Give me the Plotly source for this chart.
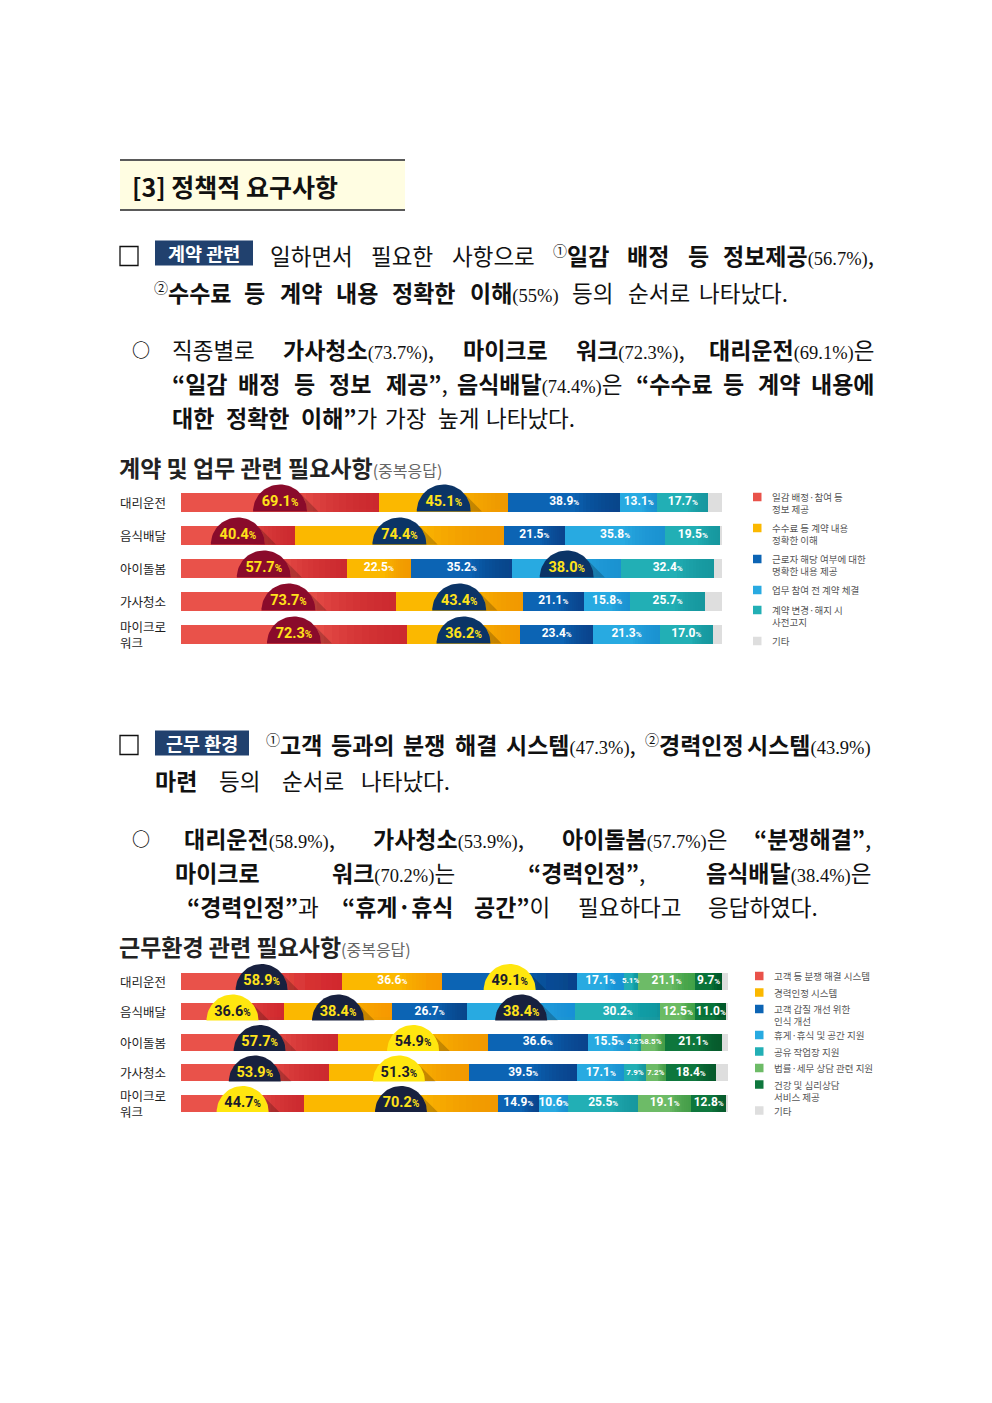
import math
import plotly.graph_objects as go

# page size; the browser adds an 8px body margin, so the figure is a bit smaller
PAGE_W, PAGE_H = 992, 1403
FW, FH = PAGE_W - 16, PAGE_H - 16

# ---- data: 계약 및 업무 관련 필요사항 (중복응답) ----
jobs = ["대리운전", "음식배달", "아이돌봄", "가사청소", "마이크로<br>워크"]

contract_names = ["일감 배정·참여 등<br>정보 제공", "수수료 등 계약 내용<br>정확한 이해",
                  "근로자 해당 여부에 대한<br>명확한 내용 제공", "업무 참여 전 계약 체결",
                  "계약 변경·해지 시<br>사전고지", "기타"]
contract_info = [69.1, 40.4, 57.7, 73.7, 72.3]
contract_fee = [45.1, 74.4, 22.5, 43.4, 36.2]
contract_worker = [38.9, 21.5, 35.2, 21.1, 23.4]
contract_sign = [13.1, 35.8, 38.0, 15.8, 21.3]
contract_notice = [17.7, 19.5, 32.4, 25.7, 17.0]
contract_etc = [4.8, 0.6, 2.7, 5.8, 2.9]  # not labelled, read from the grey ends

# ---- data: 근무환경 관련 필요사항 (중복응답) ----
work_names = ["고객 등 분쟁 해결 시스템", "경력인정 시스템", "고객 갑질 개선 위한<br>인식 개선",
              "휴게·휴식 및 공간 지원", "공유 작업장 지원", "법률·세무 상담 관련 지원",
              "건강 및 심리상담<br>서비스 제공", "기타"]
work_dispute = [58.9, 36.6, 57.7, 53.9, 44.7]
work_career = [36.6, 38.4, 54.9, 51.3, 70.2]
work_abuse = [49.1, 26.7, 36.6, 39.5, 14.9]
work_rest = [17.1, 38.4, 15.5, 17.1, 10.6]
work_shared = [5.1, 30.2, 4.2, 7.9, 25.5]
work_legal = [21.1, 12.5, 8.5, 7.2, 19.1]
work_health = [9.7, 11.0, 21.1, 18.4, 12.8]
work_etc = [2.2, 0.6, 2.2, 4.4, 0.6]

# highlighted (circled) segments: (row, series index, circle style)
contract_marks = [(0, 0, "wine"), (0, 1, "navy"), (1, 0, "wine"), (1, 1, "navy"),
                  (2, 0, "wine"), (2, 3, "navy"), (3, 0, "wine"), (3, 1, "navy"),
                  (4, 0, "wine"), (4, 1, "navy")]
work_marks = [(0, 0, "dark"), (0, 2, "yellow"), (1, 0, "yellow"), (1, 1, "dark"),
              (1, 3, "dark"), (2, 0, "dark"), (2, 1, "yellow"), (3, 0, "dark"),
              (3, 1, "yellow"), (4, 0, "yellow"), (4, 1, "dark")]

contract_series = [contract_info, contract_fee, contract_worker, contract_sign,
                   contract_notice, contract_etc]
work_series = [work_dispute, work_career, work_abuse, work_rest, work_shared,
               work_legal, work_health, work_etc]

RED, YEL, DBLUE, LBLUE, TEAL = "#E9524A", "#FBB800", "#0C64B4", "#28AAE1", "#22AFB5"
LGREEN, DGREEN, GREY = "#6DBB67", "#0E773D", "#DEDEDE"
contract_colors = [RED, YEL, DBLUE, LBLUE, TEAL, GREY]
work_colors = [RED, YEL, DBLUE, LBLUE, TEAL, LGREEN, DGREEN, GREY]
# darker tone each segment fades into at its right end
contract_ends = ["#C8232B", "#F29400", "#0A3F86", "#1B8FD0", "#17949C", None]
work_ends = ["#C8232B", "#F29400", "#0A3F86", "#1B8FD0", "#17949C", "#3E9A45", "#07562A", None]
circle_style = {"wine": ("#8A0B2B", "#FFE21A"), "navy": ("#0B3466", "#FFE21A"),
                "dark": ("#18213F", "#FFE21A"), "yellow": ("#FFE60F", "#1B1B2B")}

KR = "Noto Sans CJK KR"
NUM = "Liberation Serif"


def X(p):
    return (p - 8) / FW


def Y(p):
    return 1 - (p - 8) / FH


fig = go.Figure()
annotations = []
shapes = []


def pct(v, small=8):
    return f"{v:.1f}<span style='font-size:{small}px'>%</span>"


def add_chart(series, colors, ends, marks, xaxis, yaxis, bw, px_x, px_y, radius):
    n = len(jobs)
    rows = list(range(n))
    totals = [sum(s[i] for s in series) for i in range(n)]
    shares = [[s[i] / totals[i] * 100 for i in range(n)] for s in series]
    starts = [[sum(shares[j][i] for j in range(k)) for i in range(n)] for k in range(len(series))]
    marked = {(r, k) for r, k, _ in marks}
    for k, s in enumerate(series):
        fig.add_trace(go.Bar(
            y=rows, x=shares[k], base=starts[k], orientation="h",
            marker=dict(color=colors[k], line=dict(width=0)), width=bw,
            hoverinfo="skip", showlegend=False, xaxis=xaxis, yaxis=yaxis))
        if ends[k]:
            # gradient towards the right edge of each segment
            steps = 12
            for q in range(steps):
                frac = 0.4 * (1 - q / steps)
                fig.add_trace(go.Bar(
                    y=rows, x=[shares[k][i] * frac for i in range(n)],
                    base=[starts[k][i] + shares[k][i] * (1 - frac) for i in range(n)],
                    orientation="h", width=bw, opacity=0.12,
                    marker=dict(color=ends[k], line=dict(width=0)),
                    hoverinfo="skip", showlegend=False, xaxis=xaxis, yaxis=yaxis))
    for k, s in enumerate(series[:-1]):
        keep = [i for i in range(n) if (i, k) not in marked]
        fig.add_trace(go.Scatter(
            x=[starts[k][i] + shares[k][i] / 2 for i in keep], y=keep, mode="text",
            text=[pct(s[i]) for i in keep],
            textfont=dict(family="Roboto", size=[12 if shares[k][i] > 4.5 else 8 for i in keep],
                          color="white", weight="bold"),
            hoverinfo="skip", showlegend=False, xaxis=xaxis, yaxis=yaxis))
    # circled labels: half disc standing on the bottom of the bar, with a long shadow
    rx, ry = radius / px_x, radius / px_y
    h_px = bw * px_y
    a_t = min(math.pi / 4, math.asin(min(1.0, h_px / radius)))
    ts = [math.pi * i / 40 for i in range(41)]
    for r, k, st in marks:
        cx = starts[k][r] + shares[k][r] / 2
        cy = r + bw / 2
        fill, tcol = circle_style[st]
        arc = [a_t * i / 10 for i in range(11)]
        sx = [cx + rx * math.cos(a) for a in arc]
        sy = [cy - ry * math.sin(a) for a in arc]
        reach = radius * (math.cos(a_t) + math.sin(a_t)) / px_x
        sx.append(cx + reach)
        sy.append(cy)
        fig.add_trace(go.Scatter(
            x=sx, y=sy, fill="toself", fillcolor="rgba(0,0,0,0.2)", mode="lines",
            line=dict(width=0), showlegend=False, hoverinfo="skip", xaxis=xaxis, yaxis=yaxis))
        fig.add_trace(go.Scatter(
            x=[cx + rx * math.cos(t) for t in ts], y=[cy - ry * math.sin(t) for t in ts],
            fill="toself", fillcolor=fill, mode="lines", line=dict(width=0),
            showlegend=False, hoverinfo="skip", xaxis=xaxis, yaxis=yaxis))
        fig.add_trace(go.Scatter(
            x=[cx], y=[r], mode="text", text=[pct(series[k][r], 10)],
            textfont=dict(family="Roboto", size=14.5, color=tcol, weight="bold"),
            showlegend=False, hoverinfo="skip", xaxis=xaxis, yaxis=yaxis))
    for i, j in enumerate(jobs):
        annotations.append(dict(
            x=X(118), xref="paper", y=i, yref=yaxis, text=j,
            xanchor="left", yanchor="middle", showarrow=False, align="left",
            font=dict(family=KR, size=12.5, color="#1E1E1E")))


def add_legend(names, colors, y0, steps, sq_x, txt_x):
    y = y0
    lh = 9.5 * 1.3
    for name, col in zip(names, colors):
        shapes.append(dict(type="rect", xref="paper", yref="paper",
                           x0=X(sq_x), x1=X(sq_x + 8.5), y0=Y(y + 4.25), y1=Y(y - 4.25),
                           fillcolor=col, line=dict(width=0)))
        lines = name.count("<br>") + 1
        annotations.append(dict(x=X(txt_x), y=Y(y + (lines - 1) * lh / 2), xref="paper",
                                yref="paper", text=name, xanchor="left", yanchor="middle",
                                align="left", showarrow=False,
                                font=dict(family=KR, size=9.5, color="#555")))
        y += steps[lines - 1]


# ---------- text helpers ----------
FR = 22.5   # regular body size
FB = 23     # bold body size
NS = 18.5   # number size


def char_w(c, kind):
    if kind == "n":
        if c.isdigit():
            return 0.5 * NS
        return {"%": 0.833, "(": 0.333, ")": 0.333, ".": 0.25}.get(c, 0.5) * NS
    if kind == "s":
        return 13
    size = FB if kind == "b" else FR
    if "\uac00" <= c <= "\ud7a3":
        return 0.92 * size
    return {"“": 0.4, "”": 0.4, ",": 0.25, ".": 0.25, "·": 0.3, " ": 0.22}.get(c, 0.55) * size


def run_html(text, kind):
    if kind == "b":
        return f"<b><span style='font-size:{FB}px'>{text}</span></b>"
    if kind == "n":
        return f"<span style='font-family:{NUM};font-size:{NS}px'>{text}</span>"
    if kind == "s":
        return f"<sup><span style='font-size:14px'>{text}</span></sup>"
    return text


def word(*runs):
    html = "".join(run_html(t, k) for t, k in runs)
    w = sum(char_w(c, k) for t, k in runs for c in t)
    return html, w


def text_at(x, y, html, anchor="left", size=FR, color="#111"):
    annotations.append(dict(x=X(x), y=Y(y), xref="paper", yref="paper", text=html,
                            xanchor=anchor, yanchor="middle", showarrow=False,
                            font=dict(family=KR, size=size, color=color)))


def justify(x0, x1, y, words):
    total = sum(w for _, w in words)
    gap = (x1 - x0 - total) / (len(words) - 1)
    x = x0
    for i, (html, w) in enumerate(words):
        if i == len(words) - 1:
            text_at(x1, y, html, "right")
        else:
            text_at(x, y, html)
        x += w + gap


def checkbox(y):
    shapes.append(dict(type="rect", xref="paper", yref="paper", x0=X(120), x1=X(138),
                       y0=Y(y + 9.5), y1=Y(y - 9.5), line=dict(color="#111", width=1.3)))


def tag(x0, x1, y, label):
    shapes.append(dict(type="rect", xref="paper", yref="paper", x0=X(x0), x1=X(x1),
                       y0=Y(y + 12.5), y1=Y(y - 12.5), fillcolor="#21416E", line=dict(width=0)))
    text_at((x0 + x1) / 2, y, f"<b>{label}</b>", "center", 18.5, "white")


# ---------- heading ----------
shapes.append(dict(type="rect", xref="paper", yref="paper", x0=X(120), x1=X(405),
                   y0=Y(210), y1=Y(160), fillcolor="#FFFDE2", line=dict(width=0)))
for yy in (160, 210):
    shapes.append(dict(type="line", xref="paper", yref="paper", x0=X(120), x1=X(405),
                       y0=Y(yy), y1=Y(yy), line=dict(color="#5A5A5A", width=2)))
text_at(130, 186, "<b>[3] 정책적 요구사항</b>", size=25, color="#111")

# ---------- section 1 text ----------
checkbox(256)
tag(155, 253, 253, "계약 관련")
justify(268, 876, 255, [
    word(("일하면서", "r")), word(("필요한", "r")), word(("사항으로", "r")),
    word(("①", "s"), ("일감", "b")), word(("배정", "b")), word(("등", "b")),
    word(("정보제공", "b"), ("(56.7%)", "n"), (",", "r"))])
justify(152, 790, 292, [
    word(("②", "s"), ("수수료", "b")), word(("등", "b")), word(("계약", "b")),
    word(("내용", "b")), word(("정확한", "b")), word(("이해", "b"), ("(55%)", "n")),
    word(("등의", "r")), word(("순서로", "r")), word(("나타났다.", "r"))])

text_at(141, 349, "<b>○</b>", "center", 18)
justify(170, 876, 349, [
    word(("직종별로", "r")), word(("가사청소", "b"), ("(73.7%)", "n"), (",", "r")),
    word(("마이크로", "b")), word(("워크", "b"), ("(72.3%)", "n"), (",", "r")),
    word(("대리운전", "b"), ("(69.1%)", "n"), ("은", "r"))])
justify(170, 876, 383, [
    word(("“일감", "b")), word(("배정", "b")), word(("등", "b")), word(("정보", "b")),
    word(("제공”", "b"), (",", "r")), word(("음식배달", "b"), ("(74.4%)", "n"), ("은", "r")),
    word(("“수수료", "b")), word(("등", "b")), word(("계약", "b")), word(("내용에", "b"))])
justify(170, 577, 417, [
    word(("대한", "b")), word(("정확한", "b")), word(("이해”", "b"), ("가", "r")),
    word(("가장", "r")), word(("높게", "r")), word(("나타났다.", "r"))])

text_at(117, 467, "<b>계약 및 업무 관련 필요사항</b>"
        "<span style='font-size:16px;color:#666'>(중복응답)</span>", size=23, color="#222")

# ---------- section 2 text ----------
checkbox(745)
tag(155, 249, 743, "근무 환경")
justify(264, 873, 744, [
    word(("①", "s"), ("고객", "b")), word(("등과의", "b")), word(("분쟁", "b")),
    word(("해결", "b")), word(("시스템", "b"), ("(47.3%)", "n"), (",", "r")),
    word(("②", "s"), ("경력인정", "b")), word(("시스템", "b"), ("(43.9%)", "n"))])
justify(153, 452, 780, [
    word(("마련", "b")), word(("등의", "r")), word(("순서로", "r")), word(("나타났다.", "r"))])

text_at(141, 838, "<b>○</b>", "center", 18)
justify(182, 873, 838, [
    word(("대리운전", "b"), ("(58.9%)", "n"), (",", "r")),
    word(("가사청소", "b"), ("(53.9%)", "n"), (",", "r")),
    word(("아이돌봄", "b"), ("(57.7%)", "n"), ("은", "r")),
    word(("“분쟁해결”", "b"), (",", "r"))])
justify(173, 873, 872, [
    word(("마이크로", "b")), word(("워크", "b"), ("(70.2%)", "n"), ("는", "r")),
    word(("“경력인정”", "b"), (",", "r")),
    word(("음식배달", "b"), ("(38.4%)", "n"), ("은", "r"))])
justify(185, 820, 906, [
    word(("“경력인정”", "b"), ("과", "r")), word(("“휴게·휴식", "b")),
    word(("공간”", "b"), ("이", "r")), word(("필요하다고", "r")), word(("응답하였다.", "r"))])

text_at(117, 946, "<b>근무환경 관련 필요사항</b>"
        "<span style='font-size:16px;color:#666'>(중복응답)</span>", size=23, color="#222")

# ---------- charts ----------
add_chart(contract_series, contract_colors, contract_ends, contract_marks,
          "x", "y", 0.57, 541 / 100, 33, 27)
add_chart(work_series, work_colors, work_ends, work_marks,
          "x2", "y2", 0.56, 547 / 100, 30.5, 26)
add_legend(contract_names, contract_colors, 497, (20, 31), 753, 770)
add_legend(work_names, work_colors, 976, (16.5, 26), 755, 772)

axis_off = dict(visible=False, fixedrange=True)
fig.update_layout(
    width=FW, height=FH, autosize=False,
    margin=dict(l=0, r=0, t=0, b=0),
    paper_bgcolor="white", plot_bgcolor="white",
    font=dict(family=KR, color="#111"),
    barmode="overlay", bargap=0, showlegend=False,
    xaxis=dict(domain=[X(181), X(722)], range=[0, 100], anchor="y", **axis_off),
    yaxis=dict(domain=[Y(502 + 4.7 * 33), Y(502 - 0.7 * 33)], range=[4.7, -0.7],
               anchor="x", **axis_off),
    xaxis2=dict(domain=[X(181), X(728)], range=[0, 100], anchor="y2", **axis_off),
    yaxis2=dict(domain=[Y(981.5 + 4.7 * 30.5), Y(981.5 - 0.7 * 30.5)], range=[4.7, -0.7],
                anchor="x2", **axis_off),
    annotations=annotations,
    shapes=shapes,
)

fig.write_html("out.html")
